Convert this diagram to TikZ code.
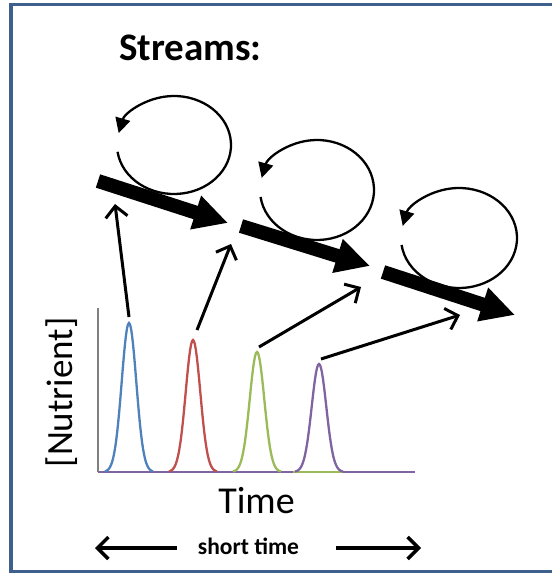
\documentclass[tikz,border=0pt]{standalone}
\usepackage{fontspec}
\setmainfont{Carlito}
\usepackage{tikz}
\usetikzlibrary{arrows.meta}
\definecolor{framecol}{HTML}{3F5F8C}
\definecolor{xlblue}{HTML}{4F81BD}
\definecolor{xlred}{HTML}{C0504D}
\definecolor{xlgreen}{HTML}{9BBB59}
\definecolor{xlpurple}{HTML}{8064A2}
\tikzset{
  swirl/.style={line width=2.3pt,-{Triangle[length=15pt,width=15pt]}},
  flow/.style={line width=14pt,-{Triangle[length=34pt,width=33pt]}},
  link/.style={line width=3pt,-{Straight Barb[length=11pt,width=22pt]}},
  peak/.style={line width=2.3pt}
}
\begin{document}
\begin{tikzpicture}[x=1pt,y=-1pt]
\useasboundingbox (0,0) rectangle (552,577);
\draw[framecol,line width=3.2pt] (552,4.5) -- (11,4.5) -- (11,571.5) -- (552,571.5);
\node[anchor=base,font=\bfseries\fontsize{39}{40}\selectfont] (title) at (190.5,61) {Streams:};
\coordinate (c1) at (174,145);
\coordinate (c2) at (317,190);
\coordinate (c3) at (459,238);
\draw[swirl] ([shift={(172:57 and 49)}]c1) arc[start angle=172,end angle=-166,x radius=57,y radius=49];
\draw[swirl] ([shift={(172:57 and 50)}]c2) arc[start angle=172,end angle=-166,x radius=57,y radius=50];
\draw[swirl] ([shift={(172:58 and 50)}]c3) arc[start angle=172,end angle=-166,x radius=58,y radius=50];
\coordinate (s1a) at (98,181);
\coordinate (s1b) at (228,223);
\coordinate (s2a) at (241,226);
\coordinate (s2b) at (370,266);
\coordinate (s3a) at (383,272);
\coordinate (s3b) at (515,315);
\draw[flow] (s1a) -- (s1b);
\draw[flow] (s2a) -- (s2b);
\draw[flow] (s3a) -- (s3b);
\draw[xlpurple,line width=2pt] (98,472) -- (415,472);
\draw[xlgreen,line width=2pt] (293,472) -- (343,472);
\draw[gray,line width=1.2pt] (98,308) -- (98,472);
\draw[xlblue,peak] plot[domain=-24:24,samples=49] ({129+\x},{472-149*exp(-((\x)*(\x))/106)});
\draw[xlred,peak] plot[domain=-24:24,samples=49] ({193+\x},{472-132*exp(-((\x)*(\x))/106)});
\draw[xlgreen,peak] plot[domain=-24:24,samples=49] ({257+\x},{472-120*exp(-((\x)*(\x))/106)});
\draw[xlpurple,peak] plot[domain=-24:24,samples=49] ({319+\x},{472-108*exp(-((\x)*(\x))/106)});
\coordinate (pk1) at (129,317);
\coordinate (pk2) at (197,330);
\coordinate (pk3) at (259,347);
\coordinate (pk4) at (321,359);
\coordinate (in1) at (115,204);
\coordinate (in2) at (231,244);
\coordinate (in3) at (361,287);
\coordinate (in4) at (460,315);
\draw[link] (pk1) -- (in1);
\draw[link] (pk2) -- (in2);
\draw[link] (pk3) -- (in3);
\draw[link] (pk4) -- (in4);
\node[anchor=base,rotate=90,font=\fontsize{37}{38}\selectfont] (ylab) at (72,392.5) {[Nutrient]};
\node[anchor=base,font=\fontsize{38}{39}\selectfont] (xlab) at (256.5,513.3) {Time};
\node[anchor=base,font=\bfseries\fontsize{23.5}{24}\selectfont] (span) at (248.5,554) {short time};
\coordinate (l0) at (177,548);
\coordinate (l1) at (95,548);
\coordinate (r0) at (336,548);
\coordinate (r1) at (421,548);
\draw[link,line width=3.4pt] (l0) -- (l1);
\draw[link,line width=3.4pt] (r0) -- (r1);
\end{tikzpicture}
\end{document}
